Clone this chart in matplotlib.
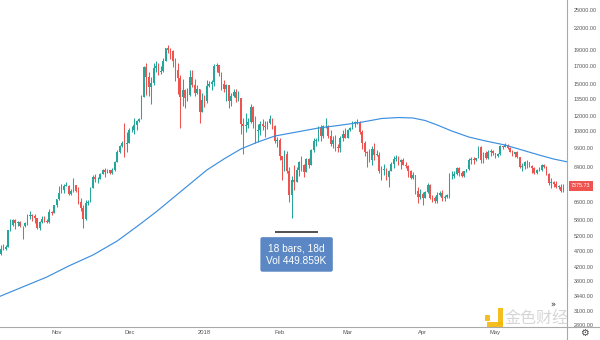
import numpy as np
import pandas as pd
import matplotlib
matplotlib.use("Agg")
import matplotlib.pyplot as plt
import matplotlib.dates as mdates
from matplotlib.lines import Line2D
from matplotlib.patches import Rectangle, FancyBboxPatch

# daily BTCUSD candles, 2017-10-08 .. 2018-05-29 (open = previous close)
START = "2017-10-08"
FIRST_OPEN = 4430
close = [
    # Oct
    4610, 4770, 4760, 4820, 5430, 5640, 5820, 5680, 5750, 5600, 5580, 5700, 5990, 6010, 5980, 5900,
    5510, 5730, 5880, 5760, 5730, 6140, 6120, 6450,
    # Nov
    6740, 7030, 7160, 7380, 7380, 6960, 7120, 7430, 7110, 6580, 6330, 5860, 6530, 6600, 7280, 7820,
    7710, 7760, 8010, 8230, 8100, 8220, 8050, 8230, 8710, 9300, 9760, 9910, 9830, 9920,
    # Dec
    10850, 10900, 11220, 11600, 11700, 13700, 16850, 15700, 14700, 15050, 16700, 16950, 16250, 16400,
    17600, 19150, 18900, 18850, 17600, 16450, 15550, 13700, 14350, 13600, 13900, 15750, 14900, 14100,
    14400, 12350, 13400,
    # Jan
    13250, 14750, 15000, 15150, 16900, 17100, 16200, 14950, 14400, 14900, 13250, 13800, 14200, 13600,
    13600, 11350, 11150, 11250, 11500, 12750, 11500, 10800, 10850, 11350, 11150, 11100, 11450, 11750,
    11200, 10100, 10150,
    # Feb
    9050, 8850, 9200, 8200, 6900, 7700, 7600, 8250, 8700, 8550, 8100, 8900, 8550, 9450, 10050, 10150,
    11100, 10400, 11150, 11200, 10450, 9850, 10150, 9650, 9600, 10300, 10600, 10300,
    # Mar
    10900, 11000, 11450, 11450, 11500, 10700, 9900, 9300, 9250, 8800, 9550, 9150, 9150, 8200, 8250,
    8300, 7850, 8200, 8600, 8900, 8900, 8700, 8850, 8550, 8450, 8150, 7800, 7950, 7100, 6850, 6950,
    # Apr
    6800, 7050, 7400, 6800, 6780, 6620, 6900, 7020, 6770, 6830, 6930, 7900, 7900, 8000, 8350, 8050,
    7900, 8150, 8280, 8850, 8900, 8800, 8950, 9650, 8850, 9280, 8930, 9350, 9400, 9250,
    # May
    9070, 9220, 9720, 9680, 9820, 9620, 9350, 9200, 9300, 9020, 8420, 8480, 8700, 8680, 8480, 8340,
    8060, 8230, 8230, 8500, 8400, 8000, 7520, 7560, 7450, 7340, 7340, 7100, 7375.73,
]
high = [
    4640, 4880, 4920, 4880, 5440, 5850, 5850, 5860, 5780, 5760, 5600, 5730, 6060, 6190, 6080, 6070,
    5920, 5790, 6000, 5990, 5860, 6300, 6200, 6460,
    6750, 7350, 7450, 7480, 7600, 7420, 7200, 7770, 7440, 7300, 6800, 6450, 6700, 6700, 7320, 7960,
    8000, 7860, 8090, 8280, 8350, 8300, 8260, 8350, 8770, 9470, 9800, 10080, 11400, 10700,
    11000, 11150, 11850, 11650, 11850, 13850, 16900, 17300, 16300, 15700, 17300, 17500, 17300, 16950,
    17900, 19200, 19666, 19150, 18950, 17900, 17350, 15900, 15500, 14400, 14500, 16450, 16500, 15450,
    14900, 14450, 14100,
    13900, 15400, 15300, 15400, 17150, 17250, 17100, 16250, 15350, 14950, 14900, 14050, 14450, 14450,
    14250, 13600, 11850, 12200, 11850, 13050, 12800, 11950, 11350, 11550, 11700, 11600, 11600, 12100,
    11850, 11250, 10350,
    10250, 9100, 9450, 9400, 8400, 7900, 8550, 8400, 8750, 9050, 8600, 8950, 8950, 9500, 10250, 10300,
    11150, 11250, 11250, 11800, 11250, 10900, 10400, 10500, 9850, 10450, 10900, 11050,
    10950, 11100, 11550, 11550, 11700, 11550, 10900, 10100, 9420, 9500, 9700, 9900, 9450, 9350, 8450,
    8600, 8350, 8250, 8700, 9050, 9150, 9100, 8900, 8950, 8700, 8500, 8250, 8100, 7980, 7300, 7200,
    7050, 7100, 7500, 7450, 6920, 6860, 7050, 7100, 7180, 6900, 6970, 8050, 8200, 8150, 8400, 8420,
    8180, 8200, 8300, 8930, 9030, 9000, 8980, 9750, 9750, 9300, 9380, 9450, 9550, 9480,
    9280, 9250, 9780, 9750, 9960, 9890, 9650, 9450, 9360, 9380, 9030, 8650, 8750, 8850, 8700, 8500,
    8400, 8280, 8380, 8560, 8580, 8450, 8050, 7780, 7650, 7620, 7420, 7460, 7480,
]
low = [
    4400, 4560, 4720, 4730, 4810, 5380, 5570, 5450, 5580, 5530, 5110, 5550, 5620, 5870, 5760, 5680,
    5450, 5420, 5710, 5740, 5710, 5700, 6030, 6100,
    6380, 6700, 7000, 7030, 7350, 6940, 6930, 7080, 7070, 6500, 6200, 5500, 5820, 6450, 6580, 7260,
    7600, 7530, 7740, 7990, 7820, 8090, 8000, 8000, 8200, 8700, 9270, 9680, 9000, 9350,
    9900, 10700, 10600, 10900, 11500, 11700, 13700, 13900, 13800, 13000, 14850, 16300, 15900, 16000,
    16300, 17500, 18600, 17850, 16800, 15300, 14000, 11000, 12800, 12700, 13300, 13800, 14600, 13800,
    13950, 11450, 12300,
    12750, 13100, 14600, 14350, 14800, 16300, 15800, 14300, 14200, 13250, 12700, 12850, 13700, 13200,
    13300, 10600, 9200, 10700, 11000, 11450, 11000, 9950, 10000, 10500, 10900, 10350, 10950, 11350,
    10950, 9900, 9650,
    8800, 7700, 8150, 8050, 6600, 5920, 7150, 7600, 7900, 8200, 7850, 8100, 8350, 8550, 9350, 9700,
    10050, 10100, 10300, 11050, 10250, 9750, 9600, 9400, 9300, 9350, 10100, 10250,
    10250, 10800, 10950, 11100, 11300, 10550, 9500, 9100, 8400, 8700, 8500, 8800, 9050, 8050, 7700,
    7950, 7700, 7300, 8150, 8350, 8750, 8550, 8300, 8500, 8350, 7850, 7750, 7750, 6950, 6550, 6750,
    6450, 6780, 7000, 6750, 6600, 6550, 6570, 6880, 6650, 6650, 6800, 6800, 7760, 7800, 7980, 7900,
    7850, 7860, 8120, 8240, 8580, 8560, 8780, 8920, 8650, 8650, 8880, 8900, 9100, 9130,
    8950, 9010, 9150, 9550, 9660, 9550, 9300, 9050, 9000, 8980, 8350, 8200, 8300, 8350, 8380, 8070,
    8020, 7990, 8160, 8200, 8340, 7950, 7430, 7270, 7300, 7280, 7240, 7060, 7080,
]

# moving average
ma_dates = ["2017-10-08", "2017-10-18", "2017-10-28", "2017-11-06", "2017-11-16", "2017-11-26",
            "2017-12-05", "2017-12-12", "2017-12-19", "2017-12-26", "2018-01-02", "2018-01-09",
            "2018-01-16", "2018-01-23", "2018-01-30", "2018-02-08", "2018-02-17", "2018-02-25",
            "2018-03-06", "2018-03-15", "2018-03-22", "2018-03-28", "2018-04-02", "2018-04-07",
            "2018-04-13", "2018-04-20", "2018-04-27", "2018-05-05", "2018-05-12", "2018-05-19",
            "2018-05-25", "2018-05-31"]
ma_vals = [3410, 3655, 3917, 4228, 4563, 5029,
           5621, 6151, 6779, 7471, 8234, 8886,
           9526, 9999, 10424, 10718, 11019, 11212,
           11448, 11771, 11853, 11813, 11610, 11253,
           10793, 10353, 10069, 9793, 9459, 9136,
           8886, 8703]

price_ticks = [25000, 22000, 19000, 17000, 15000, 13500, 12000, 10800, 9600, 8400,
               6600, 5800, 5200, 4700, 4200, 3800, 3440, 3100, 2800]
month_ticks = ["2017-11-01", "2017-12-01", "2018-01-01", "2018-02-01", "2018-03-01",
               "2018-04-01", "2018-05-01"]
month_labels = ["Nov", "Dec", "2018", "Feb", "Mar", "Apr", "May"]

measure_start, measure_bars, measure_level = "2018-01-30", 18, 5350
measure_text = "18 bars, 18d\nVol 449.859K"

UP, DOWN, MA_C = "#26a69a", "#ef5350", "#3d8fe0"
AXIS_C, TXT_C = "#a9a9a9", "#555555"
W, H = 600, 340

fig = plt.figure(figsize=(6, 3.4), dpi=100)
fig.patch.set_facecolor("white")


def fx(px):
    return px / W


def fy(py):
    return 1 - py / H


ax = fig.add_axes([0, fy(327), fx(567), 327 / H])
ax.set_facecolor("white")

dates = pd.date_range(START, periods=len(close), freq="D")
x = mdates.date2num(dates)
c = np.array(close, float)
o = np.concatenate([[FIRST_OPEN], c[:-1]])
hi = np.array(high, float)
lo = np.array(low, float)
up = c >= o
cols = np.where(up, UP, DOWN)
bot = np.minimum(o, c)
top = np.maximum(o, c)
top = np.maximum(top, bot * 1.003)

ax.vlines(x, lo, hi, colors=cols, lw=0.75, zorder=2)
ax.bar(x, top - bot, bottom=bot, width=0.68, color=cols, linewidth=0, zorder=3)

ax.plot(mdates.date2num(pd.to_datetime(ma_dates)), ma_vals, color=MA_C, lw=0.85, zorder=4)

ax.set_yscale("log")
ax.set_ylim(2769, 26800)
x0 = mdates.date2num(pd.Timestamp("2017-11-01"))
ax.set_xlim(x0 - 23.3, x0 + 210.5)

ax.yaxis.tick_right()
ax.yaxis.set_minor_locator(matplotlib.ticker.NullLocator())
ax.set_yticks(price_ticks, [f"{v:.2f}" for v in price_ticks])
ax.tick_params(axis="y", length=0, pad=5, labelsize=3.9, labelcolor=TXT_C)
ax.set_xticks(mdates.date2num(pd.to_datetime(month_ticks)), month_labels)
ax.tick_params(axis="x", length=0, pad=2.5, labelsize=4.2, labelcolor=TXT_C)
for lab in ax.get_xticklabels() + ax.get_yticklabels():
    lab.set_fontfamily("Liberation Sans")
for s in ("top", "left", "bottom"):
    ax.spines[s].set_visible(False)
ax.spines["right"].set_color(AXIS_C)
ax.spines["right"].set_linewidth(0.8)
fig.add_artist(Line2D([0, 1], [fy(327), fy(327)], color=AXIS_C, lw=0.8))
fig.add_artist(Line2D([fx(567), fx(567)], [0, fy(327)], color=AXIS_C, lw=0.8))

# last price tag
ax.annotate(f"{close[-1]:.2f}", xy=(1.0, close[-1]), xycoords=("axes fraction", "data"),
            xytext=(3, 0), textcoords="offset points", ha="left", va="center",
            fontsize=3.9, color="white", family="Liberation Sans", annotation_clip=False,
            bbox=dict(boxstyle="square,pad=0.45", fc=DOWN, ec="none"))

# measure tool
m0 = mdates.date2num(pd.Timestamp(measure_start))
ax.hlines(measure_level, m0, m0 + measure_bars, color="#333333", lw=1.2, zorder=5)
ax.annotate(measure_text, xy=(m0 + measure_bars / 2, measure_level), xycoords="data",
            xytext=(0, -8), textcoords="offset points", ha="center", va="top",
            fontsize=7.3, color="white", family="Liberation Sans", linespacing=1.3, zorder=6,
            bbox=dict(boxstyle="round,pad=0.6,rounding_size=0.2", fc="#5b87c4", ec="none"))

# watermark + chrome
fig.add_artist(FancyBboxPatch((fx(485), fy(321)), fx(5), 6 / H, boxstyle="round,pad=0,rounding_size=0.002",
                              transform=fig.transFigure, fc="#f2b705", ec="none", alpha=0.9))
fig.add_artist(Rectangle((fx(498), fy(325)), fx(5), 17 / H, transform=fig.transFigure,
                         fc="#f2b705", ec="none", alpha=0.9))
fig.add_artist(Rectangle((fx(487), fy(327)), fx(16), 5 / H, transform=fig.transFigure,
                         fc="#f2b705", ec="none", alpha=0.9))
fig.text(fx(536), fy(318), "金色财经", ha="center", va="center", fontsize=11.5,
         family=["Noto Sans CJK SC", "DejaVu Sans"], color="#cfcfcf", alpha=0.85)
fig.text(fx(553), fy(305), "»", ha="center", va="center", fontsize=6, color="#333333")
fig.text(fx(584), fy(333), "⚙", ha="center", va="center", fontsize=7, color="#444444",
         family="DejaVu Sans")

fig.savefig("out.png", dpi=100)
